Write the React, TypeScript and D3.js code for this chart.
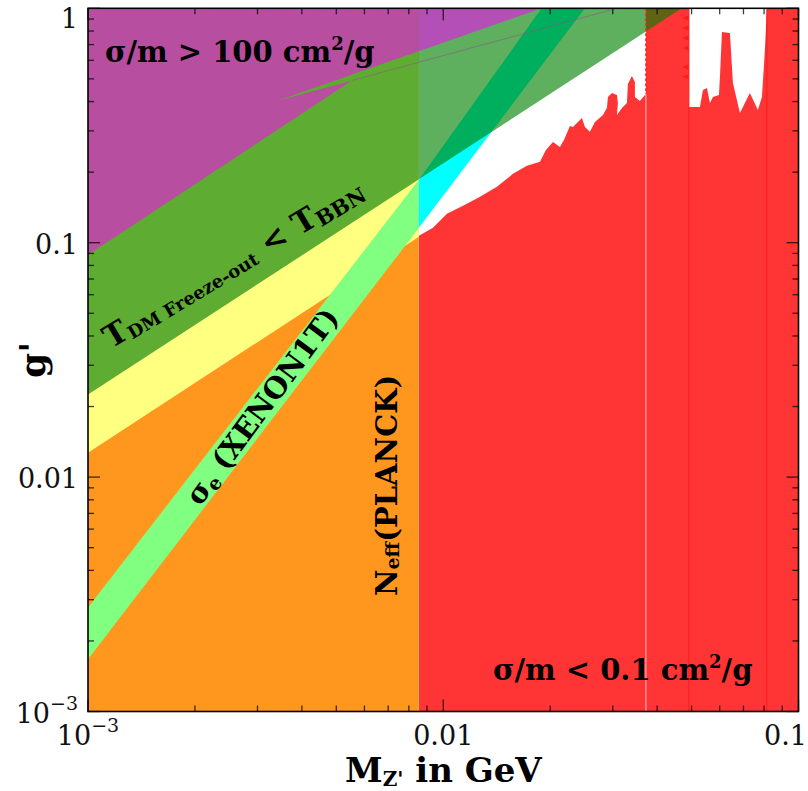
import React from "react";
import * as d3 from "d3";

const WIDTH = 808;
const HEIGHT = 791;

type Pt = [number, number];

// Axis extents: mediator mass M_Z' (GeV) and coupling g'
const MASS_RANGE: [number, number] = [1e-3, 0.1];
const COUPLING_RANGE: [number, number] = [1e-3, 1];

const xTickLabels = [
  { v: 1e-3, base: "10", sup: "\u22123", dx: 0 },
  { v: 1e-2, base: "0.01", sup: "", dx: 0 },
  { v: 1e-1, base: "0.1", sup: "", dx: -13 },
];
const yTickLabels = [
  { v: 1, base: "1", sup: "", dy: 20 },
  { v: 0.1, base: "0.1", sup: "", dy: 11 },
  { v: 0.01, base: "0.01", sup: "", dy: 11 },
  { v: 1e-3, base: "10", sup: "\u22123", dy: 11 },
];

// N_eff (Planck) lower bound on the mediator mass
const NEFF_MASS = 0.00854;

// Straight boundaries in log-log space, as [mass, g'] end points
const freezeOutUpper: Pt[] = [[0.001, 0.0888], [0.01126, 1]];
const freezeOutLower: Pt[] = [[0.001, 0.0225], [0.0469, 1]];
const bbnLower: Pt[] = [[0.001, 0.0127], [0.00854, 0.106]];
const wedgeLower: Pt[] = [[0.0034, 0.4026], [0.0308, 1]];
const wedgeUpper: Pt[] = [[0.0034, 0.4026], [0.01891, 1]];
const xenonUpper: Pt[] = [[0.001, 0.00278], [0.00854, 0.1854], [0.01891, 1]];
const xenonLower: Pt[] = [[0.001, 0.00167], [0.00854, 0.1157], [0.02505, 1]];

// sigma/m < 0.1 cm^2/g boundary, first segment (up to the first band edge)
const sidmEdgeMass = [
  0.008542, 0.009354, 0.010242, 0.01151, 0.012689, 0.014163, 0.015711, 0.0172,
  0.018723, 0.019454, 0.020362, 0.021304, 0.021862, 0.022729, 0.023178, 0.02457,
  0.02505, 0.025876, 0.02673, 0.02815, 0.028885, 0.029079, 0.029839, 0.030824,
  0.031024, 0.030824, 0.031842, 0.032885, 0.033098, 0.033966, 0.034637, 0.034637,
  0.035771, 0.036962,
];
const sidmEdgeCoupling = [
  0.107, 0.11574, 0.13281, 0.14508, 0.15689, 0.17305, 0.19664, 0.21273,
  0.22124, 0.24889, 0.26915, 0.25627, 0.27451, 0.31503, 0.31193, 0.3406,
  0.31193, 0.29705, 0.32757, 0.35084, 0.37584, 0.41858, 0.43551, 0.427,
  0.39473, 0.35084, 0.37584, 0.39473, 0.47579, 0.51464, 0.4852, 0.41858,
  0.40263, 0.427,
];
// second segment (between the second and third band edges)
const sidmGapMass = [
  0.04914, 0.05279, 0.05382, 0.05524, 0.05632, 0.05743, 0.05971, 0.0601,
  0.06088, 0.06411, 0.06538, 0.06841, 0.07296, 0.07686, 0.07889, 0.08043,
];
const sidmGapCoupling = [
  0.37956, 0.37956, 0.44853, 0.45749, 0.39473, 0.41858, 0.427, 0.50969,
  0.79249, 0.78465, 0.48048, 0.35779, 0.43551, 0.3685, 0.41858, 0.6642,
];
const sidmBandEdges = [0.0372, 0.04914, 0.08147];
const bandMarkerCoupling = [0.909, 0.824, 0.747, 0.677, 0.562, 0.51];

const lg = Math.log10;

const lineAt = (line: Pt[], m: number) => {
  const [a, b] = line;
  const t = (lg(m) - lg(a[0])) / (lg(b[0]) - lg(a[0]));
  return Math.pow(10, lg(a[1]) + t * (lg(b[1]) - lg(a[1])));
};

const crossing = (l1: Pt[], l2: Pt[]) => {
  const coef = (l: Pt[]) => {
    const s = (lg(l[1][1]) - lg(l[0][1])) / (lg(l[1][0]) - lg(l[0][0]));
    return [s, lg(l[0][1]) - s * lg(l[0][0])];
  };
  const [s1, c1] = coef(l1);
  const [s2, c2] = coef(l2);
  return Math.pow(10, (c2 - c1) / (s1 - s2));
};

export default function App() {
  const xs = d3.scaleLog().domain(MASS_RANGE).range([88, 798.5]);
  const ys = d3.scaleLog().domain(COUPLING_RANGE).range([711.5, 8.3]);
  const [m0, m1] = MASS_RANGE;
  const [g0, g1] = COUPLING_RANGE;

  const poly = (pts: Pt[]) =>
    "M" + pts.map(([m, g]) => `${xs(m)},${ys(g)}`).join("L") + "Z";
  const seg = (pts: Pt[]) =>
    "M" + pts.map(([m, g]) => `${xs(m)},${ys(g)}`).join("L");

  const xMeet = crossing(freezeOutUpper, wedgeLower);

  const bbnPoly: Pt[] = [bbnLower[0], bbnLower[1], [NEFF_MASS, g1], [m0, g1]];
  const xenonPoly: Pt[] = [...xenonUpper, ...xenonLower.slice().reverse()];
  const freezePoly: Pt[] = [freezeOutLower[0], freezeOutLower[1], [m0, g1]];
  const purplePoly: Pt[] = [
    freezeOutUpper[0],
    [xMeet, lineAt(freezeOutUpper, xMeet)],
    [xMeet, lineAt(wedgeUpper, xMeet)],
    wedgeUpper[1],
    [m0, g1],
  ];
  const wedgePoly: Pt[] = [wedgeUpper[0], wedgeUpper[1], wedgeLower[1]];
  const seamLine: Pt[] = [[xMeet, lineAt(wedgeLower, xMeet)], wedgeLower[1]];

  const [e1, e2, e3] = sidmBandEdges;
  const redPoly: Pt[] = [
    [NEFF_MASS, g0],
    ...sidmEdgeMass.map((m, i) => [m, sidmEdgeCoupling[i]] as Pt),
    [e1, sidmEdgeCoupling[sidmEdgeCoupling.length - 1]],
    [e1, g1],
    [e2, g1],
    ...sidmGapMass.map((m, i) => [m, sidmGapCoupling[i]] as Pt),
    [e3, g1],
    [m1, g1],
    [m1, g0],
  ];

  const xL = xs(m0), xR = xs(m1), yT = ys(g1), yB = ys(g0);
  const xN = xs(NEFF_MASS);

  const isMajor = (v: number) => Math.abs(lg(v) - Math.round(lg(v))) < 1e-6;
  const xTicks = xs.ticks();
  const yTicks = ys.ticks();
  const tickStroke = "rgba(0,0,0,0.75)";

  const serif = "'DejaVu Serif', serif";

  return (
    <svg
      width={WIDTH}
      height={HEIGHT}
      style={{ position: "absolute", left: 0, top: 0, background: "#fff" }}
    >
      <defs>
        <clipPath id="left-part">
          <rect x={xL} y={yT} width={xN - xL} height={yB - yT} />
        </clipPath>
        <clipPath id="right-part">
          <rect x={xN} y={yT} width={xR - xN} height={yB - yT} />
        </clipPath>
      </defs>

      {/* light-mediator side, excluded by N_eff */}
      <g clipPath="url(#left-part)">
        <rect x={xL} y={yT} width={xN - xL} height={yB - yT} fill="#ff971f" />
        <path d={poly(bbnPoly)} fill="#ffff80" />
        <path d={poly(xenonPoly)} fill="#80ff80" />
        <path d={poly(freezePoly)} fill="#5ead32" />
        <path d={poly(purplePoly)} fill="#b84ea0" />
        <path d={poly(wedgePoly)} fill="#5ead32" />
        <path d={seg(seamLine)} stroke="rgba(150,70,150,0.55)" strokeWidth={0.9} fill="none" />
      </g>

      {/* heavier mediators */}
      <g clipPath="url(#right-part)">
        <rect x={xN} y={yT} width={xR - xN} height={yB - yT} fill="#ffffff" />
        <path d={poly(redPoly)} fill="#ff3535" />
        <line x1={xs(e1)} x2={xs(e1)} y1={yB} y2={ys(0.43)} stroke="rgba(255,255,255,0.7)" strokeWidth={1} />
        <line x1={xs(e2)} x2={xs(e2)} y1={yB} y2={yT} stroke="#ff1a1a" strokeWidth={1} />
        <line x1={xs(e3)} x2={xs(e3)} y1={yB} y2={yT} stroke="#ff1a1a" strokeWidth={1} />
        {bandMarkerCoupling.map((g, i) => {
          const px = xs(e2) - 0.5;
          const py = ys(g);
          return (
            <path
              key={i}
              d={`M${px - 6},${py}L${px},${py - 2.5}L${px},${py + 2.5}Z`}
              fill="#ff1a1a"
            />
          );
        })}
        <path d={poly(xenonPoly)} fill="#00ffff" />
        <path d={poly(freezePoly)} fill="rgba(0,128,0,0.63)" />
        <path d={poly(purplePoly)} fill="#b44fb8" />
        <path d={seg(seamLine)} stroke="rgba(150,70,150,0.55)" strokeWidth={0.9} fill="none" />
        <line
          x1={xs(e1)} x2={xs(e1)} y1={yT} y2={ys(0.43)}
          stroke="#ff2020" strokeWidth={1.5} strokeDasharray="3,2"
        />
      </g>

      {/* ticks on all four sides, pointing inward */}
      {xTicks.map((t, i) => {
        const len = isMajor(t) ? 12 : 6;
        const px = xs(t);
        return (
          <g key={"xt" + i} stroke={tickStroke} strokeWidth={1.3}>
            <line x1={px} x2={px} y1={yB} y2={yB - len} />
            <line x1={px} x2={px} y1={yT} y2={yT + len} />
          </g>
        );
      })}
      {yTicks.map((t, i) => {
        const len = isMajor(t) ? 12 : 6;
        const py = ys(t);
        return (
          <g key={"yt" + i} stroke={tickStroke} strokeWidth={1.3}>
            <line x1={xL} x2={xL + len} y1={py} y2={py} />
            <line x1={xR} x2={xR - len} y1={py} y2={py} />
          </g>
        );
      })}
      <rect x={xL} y={yT} width={xR - xL} height={yB - yT} fill="none" stroke="#000" strokeWidth={1.6} />

      {/* tick labels */}
      {xTickLabels.map((t, i) => (
        <text
          key={"xl" + i}
          x={xs(t.v) + t.dx}
          y={745}
          textAnchor="middle"
          fontFamily={serif}
          fontSize={27}
          fill="#111"
        >
          {t.base}
          {t.sup && (
            <tspan fontSize={19} dy={-13}>
              {t.sup}
            </tspan>
          )}
        </text>
      ))}
      {yTickLabels.map((t, i) => (
        <text
          key={"yl" + i}
          x={78}
          y={ys(t.v) + t.dy}
          textAnchor="end"
          fontFamily={serif}
          fontSize={27}
          fill="#111"
        >
          {t.base}
          {t.sup && (
            <tspan fontSize={19} dy={-13}>
              {t.sup}
            </tspan>
          )}
        </text>
      ))}

      {/* axis titles */}
      <text x={345} y={782} fontFamily={serif} fontWeight="bold" fontSize={34} fill="#000">
        M
        <tspan fontSize={20} dy={4}>Z'</tspan>
        <tspan dy={-4}> in GeV</tspan>
      </text>
      <text
        transform="translate(45,378) rotate(-90)"
        fontFamily={serif}
        fontWeight="bold"
        fontSize={36}
        fill="#000"
      >
        g'
      </text>

      {/* region labels */}
      <g fontFamily={serif} fontWeight="bold" fill="#000">
        <text x={105} y={62} fontSize={29}>
          σ/m {">"} 100 cm<tspan fontSize={18} dy={-12}>2</tspan>
          <tspan dy={12}>/g</tspan>
        </text>
        <text x={493} y={680} fontSize={29}>
          σ/m {"<"} 0.1 cm<tspan fontSize={18} dy={-12}>2</tspan>
          <tspan dy={12}>/g</tspan>
        </text>
        <text transform="translate(111,349) rotate(-31)" fontSize={31}>
          T<tspan fontSize={18} dy={3}>DM Freeze-out</tspan>
          <tspan dy={-3}> {"<"} T</tspan>
          <tspan fontSize={21} dy={4}>BBN</tspan>
        </text>
        <text transform="translate(200,507) rotate(-53.5)" fontSize={29}>
          σ<tspan fontSize={19} dy={4}>e</tspan>
          <tspan dy={-4}> (XENON1T)</tspan>
        </text>
        <text transform="translate(397,596) rotate(-90)" fontSize={29}>
          N<tspan fontSize={19} dy={2}>eff</tspan>
          <tspan dy={-2}>(PLANCK)</tspan>
        </text>
      </g>
    </svg>
  );
}
